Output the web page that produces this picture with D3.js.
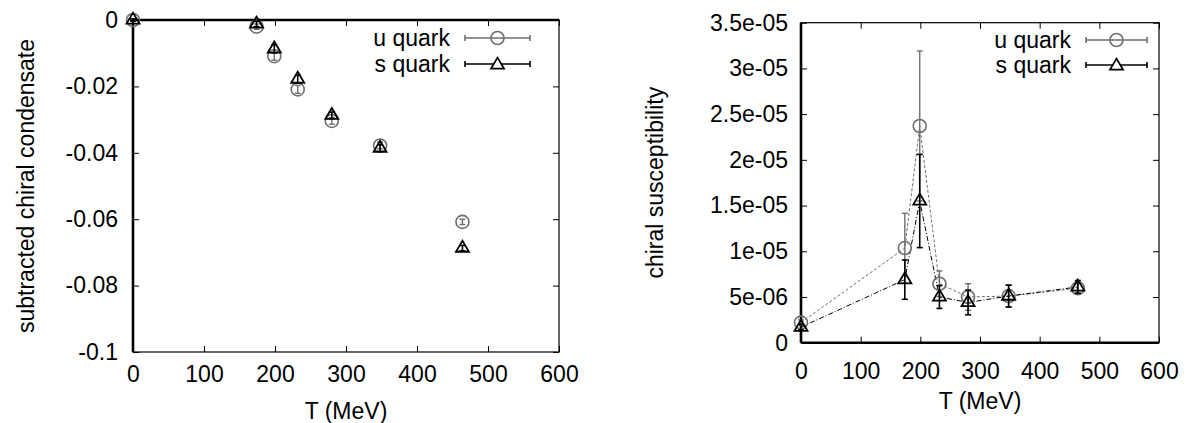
<!DOCTYPE html>
<html>
<head>
<meta charset="utf-8">
<script src="https://cdn.jsdelivr.net/npm/d3@7"></script>
<style>
  body { margin: 0; background: #fff; }
  text { font-family: "Liberation Sans", Arial, sans-serif; font-size: 23px; fill: #000; }
</style>
</head>
<body>
<svg id="chart" width="1200" height="423" viewBox="0 0 1200 423"></svg>
<script>
// temperatures (MeV), shared by both panels
const temps = [0, 174, 199, 232, 280, 348, 464];

// left panel: subtracted chiral condensate
const condU = [0, -0.002, -0.0109, -0.0209, -0.0304, -0.0378, -0.0608];
const condUErr = [0.0003, 0.0008, 0.0012, 0.0012, 0.001, 0.001, 0.0008];
const condS = [0, -0.0012, -0.0087, -0.0178, -0.0287, -0.0386, -0.0687];
const condSErr = [0.0003, 0.0008, 0.0012, 0.0012, 0.001, 0.001, 0.0008];

// right panel: chiral susceptibility
const suscU = [2.2e-6, 10.35e-6, 23.7e-6, 6.45e-6, 5.0e-6, 5.1e-6, 5.95e-6];
const suscUErr = [0.3e-6, 3.8e-6, 8.2e-6, 1.4e-6, 1.45e-6, 1.2e-6, 0.5e-6];
const suscS = [1.7e-6, 6.9e-6, 15.5e-6, 5.0e-6, 4.4e-6, 5.1e-6, 6.1e-6];
const suscSErr = [0.3e-6, 2.15e-6, 5.1e-6, 1.25e-6, 1.35e-6, 1.2e-6, 0.7e-6];

const xTicks = [0, 100, 200, 300, 400, 500, 600];
const leftYTicks = [0, -0.02, -0.04, -0.06, -0.08, -0.1];
const leftYLabels = ["0", "-0.02", "-0.04", "-0.06", "-0.08", "-0.1"];
const rightYTicks = [0, 5e-6, 1e-5, 1.5e-5, 2e-5, 2.5e-5, 3e-5, 3.5e-5];
const rightYLabels = ["0", "5e-06", "1e-05", "1.5e-05", "2e-05", "2.5e-05", "3e-05", "3.5e-05"];
const seriesNames = ["u quark", "s quark"];

const uColor = "#6e6e6e";
const sColor = "#000";

const svg = d3.select("#chart");

function trianglePath(cx, cy) {
  const h = 11, w = 6.5;
  return `M${cx},${cy - (2 * h) / 3}L${cx + w},${cy + h / 3}L${cx - w},${cy + h / 3}Z`;
}

function drawFrame(g, x, y, opts) {
  const [x0, x1] = x.range();
  const [y0, y1] = y.range();

  const bottom = g.append("g").attr("transform", `translate(0,${y0})`)
    .call(d3.axisBottom(x).tickValues(xTicks).tickFormat(d3.format("d"))
      .tickSizeInner(-6).tickSizeOuter(0).tickPadding(opts.xPad));
  const top = g.append("g").attr("transform", `translate(0,${y1})`)
    .call(d3.axisTop(x).tickValues(xTicks).tickFormat("").tickSizeInner(-6).tickSizeOuter(0));
  const left = g.append("g").attr("transform", `translate(${x0},0)`)
    .call(d3.axisLeft(y).tickValues(opts.yTicks).tickFormat((d, i) => opts.yLabels[i])
      .tickSizeInner(-6).tickSizeOuter(0).tickPadding(opts.yPad));
  const right = g.append("g").attr("transform", `translate(${x1},0)`)
    .call(d3.axisRight(y).tickValues(opts.yTicks).tickFormat("").tickSizeInner(-6).tickSizeOuter(0));

  [bottom, top, left, right].forEach((a) => {
    a.select(".domain").remove();
    a.selectAll("line").attr("stroke", "#000").attr("stroke-width", 1);
    a.selectAll("text").attr("font-family", null).attr("font-size", null).style("fill", "#000");
  });

  g.append("rect")
    .attr("x", x0).attr("y", y1)
    .attr("width", x1 - x0).attr("height", y0 - y1)
    .attr("fill", "none").attr("stroke", "#000").attr("stroke-width", 1.2);

  // zero axes
  g.append("line")
    .attr("x1", x(0)).attr("x2", x(0)).attr("y1", y0).attr("y2", y1)
    .attr("stroke", "#000").attr("stroke-width", 2.6);
  g.append("line")
    .attr("x1", x0).attr("x2", x1).attr("y1", y(0)).attr("y2", y(0))
    .attr("stroke", "#000").attr("stroke-width", 2.6);

  g.append("text")
    .attr("x", (x0 + x1) / 2).attr("y", opts.xTitleY)
    .attr("text-anchor", "middle").text("T (MeV)");
  g.append("text")
    .attr("transform", `translate(${opts.yTitleX},${(y0 + y1) / 2}) rotate(-90)`)
    .attr("text-anchor", "middle").text(opts.yTitle);
}

function drawErrorBars(g, x, y, vals, errs, color, width) {
  const bars = g.append("g").attr("stroke", color).attr("stroke-width", width);
  temps.forEach((t, i) => {
    const cx = x(t), hi = y(vals[i] + errs[i]), lo = y(vals[i] - errs[i]);
    bars.append("line").attr("x1", cx).attr("x2", cx).attr("y1", hi).attr("y2", lo);
    bars.append("line").attr("x1", cx - 3).attr("x2", cx + 3).attr("y1", hi).attr("y2", hi);
    bars.append("line").attr("x1", cx - 3).attr("x2", cx + 3).attr("y1", lo).attr("y2", lo);
  });
}

function drawCircles(g, x, y, vals) {
  g.append("g").selectAll("circle").data(vals).join("circle")
    .attr("cx", (d, i) => x(temps[i])).attr("cy", (d) => y(d)).attr("r", 6.5)
    .attr("fill", "none").attr("stroke", uColor).attr("stroke-width", 1.6);
}

function drawTriangles(g, x, y, vals) {
  g.append("g").selectAll("path").data(vals).join("path")
    .attr("d", (d, i) => trianglePath(x(temps[i]), y(d)))
    .attr("fill", "none").attr("stroke", sColor).attr("stroke-width", 1.8)
    .attr("stroke-linejoin", "miter");
}

function drawLegend(g, textX, lineX0, lineX1, rows) {
  rows.forEach((rowY, i) => {
    const color = i === 0 ? uColor : sColor;
    g.append("text").attr("x", textX).attr("y", rowY).attr("dy", "0.35em")
      .attr("text-anchor", "end").text(seriesNames[i]);
    const key = g.append("g").attr("stroke", color).attr("stroke-width", 1.6);
    key.append("line").attr("x1", lineX0).attr("x2", lineX1).attr("y1", rowY).attr("y2", rowY);
    key.append("line").attr("x1", lineX0).attr("x2", lineX0).attr("y1", rowY - 3).attr("y2", rowY + 3);
    key.append("line").attr("x1", lineX1).attr("x2", lineX1).attr("y1", rowY - 3).attr("y2", rowY + 3);
    const mx = (lineX0 + lineX1) / 2;
    if (i === 0) {
      key.append("circle").attr("cx", mx).attr("cy", rowY).attr("r", 6.5).attr("fill", "none");
    } else {
      key.append("path").attr("d", trianglePath(mx, rowY + 1)).attr("fill", "#fff").attr("stroke-width", 1.8);
    }
  });
}

// ---- left panel ----
const xL = d3.scaleLinear().domain([0, 600]).range([133, 559]);
const yL = d3.scaleLinear().domain([-0.1, 0]).range([352, 20]);
const left = svg.append("g");
drawFrame(left, xL, yL, {
  yTicks: leftYTicks, yLabels: leftYLabels, xPad: 14, yPad: 15,
  xTitleY: 419, yTitleX: 34, yTitle: "subtracted chiral condensate"
});
drawLegend(left, 450, 465, 530, [38, 64]);
drawErrorBars(left, xL, yL, condU, condUErr, uColor, 1.4);
drawCircles(left, xL, yL, condU);
drawErrorBars(left, xL, yL, condS, condSErr, sColor, 1.6);
drawTriangles(left, xL, yL, condS);

// ---- right panel ----
const xR = d3.scaleLinear().domain([0, 600]).range([801, 1159]);
const yR = d3.scaleLinear().domain([0, 3.5e-5]).range([342.7, 22.7]);
const right = svg.append("g");
drawFrame(right, xR, yR, {
  yTicks: rightYTicks, yLabels: rightYLabels, xPad: 20, yPad: 13,
  xTitleY: 409, yTitleX: 663, yTitle: "chiral susceptibility"
});
drawLegend(right, 1071, 1086, 1147, [40, 65]);

const lineGen = (vals) => d3.line().x((d, i) => xR(temps[i])).y((d) => yR(d))(vals);
right.append("path").attr("d", lineGen(suscU))
  .attr("fill", "none").attr("stroke", uColor).attr("stroke-width", 1)
  .attr("stroke-dasharray", "3,2");
right.append("path").attr("d", lineGen(suscS))
  .attr("fill", "none").attr("stroke", sColor).attr("stroke-width", 1)
  .attr("stroke-dasharray", "5,2,1,2");

drawErrorBars(right, xR, yR, suscU, suscUErr, uColor, 1.4);
drawCircles(right, xR, yR, suscU);
drawErrorBars(right, xR, yR, suscS, suscSErr, sColor, 1.6);
drawTriangles(right, xR, yR, suscS);
</script>
</body>
</html>
